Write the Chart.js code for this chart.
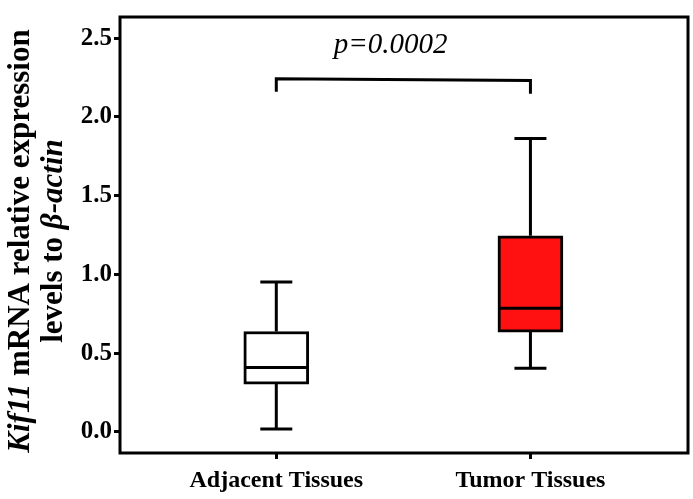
<!DOCTYPE html>
<html>
<head>
<meta charset="utf-8">
<script src="https://cdn.jsdelivr.net/npm/chart.js@4"></script>
<style>
  html, body { margin: 0; padding: 0; background: #fff; }
  #wrap { width: 693px; height: 499px; }
</style>
</head>
<body>
<div id="wrap"><canvas id="chart" width="693" height="499"></canvas></div>
<script>
// groups and box statistics
const groups = ["Adjacent Tissues", "Tumor Tissues"];
const whiskerMin = [0.017, 0.404];
const q1 = [0.303, 0.633];
const median = [0.408, 0.784];
const q3 = [0.637, 1.245];
const whiskerMax = [0.951, 1.863];
const boxColors = ["#ffffff", "rgb(255,17,17)"];
const yTicks = [0, 0.5, 1.0, 1.5, 2.0, 2.5];
// significance bracket
const pLabel = "p=0.0002";
const bracketTop = [2.242, 2.232];
const bracketBottom = [2.16, 2.148];

const serif = "'Liberation Serif', 'Times New Roman', serif";

//whiskers, medians, frame, bracket and the y title
const boxExtras = {
    id: "boxExtras",
    afterDatasetsDraw(chart) {
        const ctx = chart.ctx;
        const x = chart.scales.x, y = chart.scales.y;
        ctx.save();
        ctx.strokeStyle = "#000";
        ctx.lineWidth = 3;
        ctx.lineCap = "butt";
        groups.forEach((g, i) => {
            const cx = x.getPixelForValue(i);
            ctx.beginPath();
            ctx.moveTo(cx, y.getPixelForValue(q3[i]));
            ctx.lineTo(cx, y.getPixelForValue(whiskerMax[i]));
            ctx.moveTo(cx, y.getPixelForValue(q1[i]));
            ctx.lineTo(cx, y.getPixelForValue(whiskerMin[i]));
            ctx.moveTo(cx - 16, y.getPixelForValue(whiskerMax[i]));
            ctx.lineTo(cx + 16, y.getPixelForValue(whiskerMax[i]));
            ctx.moveTo(cx - 16, y.getPixelForValue(whiskerMin[i]));
            ctx.lineTo(cx + 16, y.getPixelForValue(whiskerMin[i]));
            ctx.moveTo(cx - 31, y.getPixelForValue(median[i]));
            ctx.lineTo(cx + 31, y.getPixelForValue(median[i]));
            ctx.stroke();
        });
        // bracket
        const x0 = x.getPixelForValue(0), x1 = x.getPixelForValue(1);
        ctx.beginPath();
        ctx.moveTo(x0, y.getPixelForValue(bracketBottom[0]));
        ctx.lineTo(x0, y.getPixelForValue(bracketTop[0]));
        ctx.lineTo(x1, y.getPixelForValue(bracketTop[1]));
        ctx.lineTo(x1, y.getPixelForValue(bracketBottom[1]));
        ctx.stroke();
        ctx.fillStyle = "#000";
        ctx.font = "italic 29px " + serif;
        ctx.textAlign = "center";
        ctx.textBaseline = "alphabetic";
        ctx.fillText(pLabel, x.getPixelForValue(0.45), 53);
        // frame
        const a = chart.chartArea;
        ctx.strokeRect(a.left, a.top, a.right - a.left, a.bottom - a.top);
        ctx.restore();
    },
    afterDraw(chart) {
        const ctx = chart.ctx;
        const a = chart.chartArea;
        const lines = [
            [["Kif11", true], [" mRNA relative expression", false]],
            [["levels to ", false], ["\u03b2-actin", true]]
        ];
        const fontFor = (it) => (it ? "italic " : "") + "bold 31px " + serif;
        const cy = (a.top + a.bottom) / 2 + 6;
        const xs = [21, 54];
        ctx.save();
        ctx.fillStyle = "#000";
        ctx.textBaseline = "middle";
        ctx.textAlign = "left";
        lines.forEach((runs, li) => {
            let w = 0;
            runs.forEach(r => { ctx.font = fontFor(r[1]); w += ctx.measureText(r[0]).width; });
            ctx.save();
            ctx.translate(xs[li], cy);
            ctx.rotate(-Math.PI / 2);
            let pos = -w / 2;
            runs.forEach(r => {
                ctx.font = fontFor(r[1]);
                ctx.fillText(r[0], pos, 0);
                pos += ctx.measureText(r[0]).width;
            });
            ctx.restore();
        });
        ctx.restore();
    }
};

const wheel = document.getElementById("chart");
let myChart = new Chart(wheel, {
    type: "bar",
    plugins: [boxExtras],
    data: {
        datasets: [
            {
                data: groups.map((g, i) => ({ x: i, y: [q1[i], q3[i]] })),
                backgroundColor: boxColors,
                borderColor: "#000",
                borderWidth: 3,
                borderSkipped: false,
                barThickness: 65
            }
        ]
    },
    options: {
        responsive: false,
        animation: false,
        layout: { padding: { top: 5, right: 5, left: 0, bottom: 0 } },
        plugins: {
            legend: { display: false },
            tooltip: { enabled: false }
        },
        scales: {
            x: {
                type: "linear",
                offset: false,
                min: -0.615,
                max: 1.62,
                afterBuildTicks: (s) => { s.ticks = groups.map((g, i) => ({ value: i })); },
                afterFit: (s) => { s.height = 46; },
                ticks: {
                    callback: (v) => groups[v],
                    color: "#000",
                    font: { family: serif, size: 24, weight: "bold" },
                    padding: 7,
                    maxRotation: 0,
                    autoSkip: false
                },
                grid: { drawOnChartArea: false, offset: false, color: "#000", lineWidth: 3, tickLength: 6 },
                border: { display: false }
            },
            y: {
                min: -0.135,
                max: 2.635,
                afterBuildTicks: (s) => { s.ticks = yTicks.map(v => ({ value: v })); },
                afterFit: (s) => { s.width = 120; },
                ticks: {
                    callback: (v) => v.toFixed(1),
                    color: "#000",
                    font: { family: serif, size: 25, weight: "bold" },
                    padding: 2
                },
                grid: { drawOnChartArea: false, color: "#000", lineWidth: 3, tickLength: 6 },
                border: { display: false }
            }
        }
    }
});
</script>
</body>
</html>
